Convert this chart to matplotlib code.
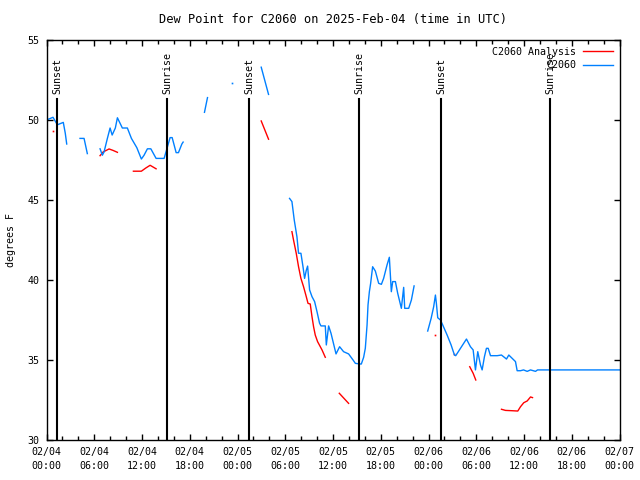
import datetime as dt
import numpy as np
import matplotlib
matplotlib.use("Agg")
import matplotlib.pyplot as plt
import matplotlib.dates as mdates

nan = np.nan

# hours after 2025-02-04 00:00 UTC, nan = gap in the record
obs_hours = [0.0, 0.82, 1.36, 2.11, 2.36, 2.54, nan,
             4.21, 4.72, 5.13, nan,
             6.73, 7.02, 7.23, 7.65, 7.99, 8.25, 8.65, 8.91, 9.53, 10.16, 10.67, 11.35,
             11.92, 12.26, 12.68, 13.11, 13.77, 14.78, 15.12, 15.53, 15.79, 16.29, 16.58,
             17.01, 17.17, nan,
             19.85, 20.23, nan,
             23.37, nan,
             26.98, 27.90, nan,
             30.54, 30.84, 31.13, 31.47, 31.67, 31.97, 32.23, 32.43, 32.64, 32.81, 33.06,
             33.36, 33.69, 33.99, 34.31, 34.49, 35.03, 35.16, 35.45, 35.75, 36.38, 36.83,
             37.33, 37.96, 38.52, 38.81, 39.43, 39.56, 39.85, 40.06, 40.28, 40.40, 40.57,
             40.73, 40.98, 41.32, 41.74, 42.08, 42.36, 42.79, 43.08, 43.33, 43.50, 43.84,
             44.13, 44.34, 44.59, 44.88, 45.01, 45.51, 45.85, 46.19, nan,
             47.90, 48.33, 48.65, 48.87, 48.99, 49.16, 49.50, 49.75, 50.34, 50.84, 51.26,
             51.42, 52.01, 52.77, 53.27, 53.61, 53.90, 54.19, 54.53, 54.74, 55.03, 55.28,
             55.50, 55.79, 56.63, 57.17, 57.80, 58.09, 58.93, 59.14, 59.56, 59.94, 60.40,
             60.82, 61.45, 61.70, 66.0, 72.0]
obs_dewpt = [50.0, 50.17, 49.7, 49.85, 49.17, 48.5, nan,
             48.85, 48.85, 47.9, nan,
             48.2, 47.8, 48.0, 48.85, 49.5, 49.06, 49.5, 50.14, 49.5, 49.5, 48.85, 48.27,
             47.56, 47.8, 48.2, 48.2, 47.6, 47.6, 48.2, 48.9, 48.9, 47.96, 47.96,
             48.5, 48.62, nan,
             50.48, 51.4, nan,
             52.3, nan,
             53.3, 51.6, nan,
             45.1, 44.9, 43.75, 42.7, 41.67, 41.67, 40.83, 40.1, 40.6, 40.87, 39.38,
             38.96, 38.65, 38.02, 37.3, 37.13, 37.13, 35.94, 37.13, 36.67, 35.38, 35.83,
             35.52, 35.38, 35.0, 34.79, 34.75, 34.75, 35.17, 35.73, 37.19, 38.44, 39.27,
             39.79, 40.83, 40.56, 39.79, 39.73, 40.1, 40.94, 41.42, 39.27, 39.9, 39.9,
             39.17, 38.75, 38.23, 39.54, 38.23, 38.23, 38.75, 39.63, nan,
             36.81, 37.6, 38.33, 39.06, 38.54, 37.64, 37.5, 37.23, 36.56, 35.94, 35.31,
             35.27, 35.73, 36.31, 35.83, 35.63, 34.38, 35.52, 34.69, 34.38, 35.21, 35.73,
             35.73, 35.27, 35.27, 35.31, 35.06, 35.31, 34.9, 34.33, 34.33, 34.38, 34.29,
             34.38, 34.29, 34.38, 34.38, 34.38]

ana_hours = [0.82, nan,
             6.73, 7.11, 7.86, 8.36, 8.91, nan,
             10.92, 11.92, 12.48, 13.02, 13.77, nan,
             26.98, 27.90, nan,
             30.84, 31.04, 31.38, 31.67, 31.97, 32.30, 32.64, 32.86, 33.14, 33.36, 33.56,
             33.77, 34.06, 34.62, 35.03, nan,
             36.79, 37.96, nan,
             48.87, nan,
             51.17, nan,
             53.18, 53.61, 53.94, nan,
             57.17, 57.67, 58.52, 59.22, 59.56, 59.97, 60.40, 60.82, 61.07]
ana_dewpt = [49.3, nan,
             47.77, 48.0, 48.19, 48.1, 47.98, nan,
             46.8, 46.8, 47.0, 47.17, 46.95, nan,
             49.94, 48.8, nan,
             43.02, 42.5, 41.67, 40.83, 40.1, 39.58, 38.96, 38.54, 38.5, 37.71, 37.08,
             36.56, 36.15, 35.63, 35.17, nan,
             32.92, 32.29, nan,
             36.56, nan,
             35.4, nan,
             34.58, 34.17, 33.75, nan,
             31.92, 31.85, 31.83, 31.81, 32.08, 32.33, 32.44, 32.69, 32.65]

sunset_hours = [1.32, 25.45, 49.57]
sunrise_hours = [15.14, 39.27, 63.27]

start = dt.datetime(2025, 2, 4)


def plot_series(ax, hours, vals, color, label):
    h = np.array(hours, dtype=float)
    v = np.array(vals, dtype=float)
    t = np.array([mdates.date2num(start + dt.timedelta(hours=x)) if not np.isnan(x) else nan
                  for x in h])
    ax.plot(t, v, color=color, lw=1.0, label=label)
    # lone points between gaps show as a dot
    good = ~np.isnan(v)
    for i in range(len(v)):
        if good[i]:
            left = i > 0 and good[i - 1]
            right = i < len(v) - 1 and good[i + 1]
            if not left and not right:
                ax.plot(t[i], v[i], 's', color=color, ms=1.2, mew=0)


plt.rcParams['font.family'] = ['DejaVu Sans Mono']
plt.rcParams['font.size'] = 7.2

fig = plt.figure(figsize=(6.4, 4.8), dpi=100)
ax = fig.add_axes([46.5 / 640, 40 / 480, 573 / 640, 400 / 480])

plot_series(ax, ana_hours, ana_dewpt, '#ff0000', 'C2060 Analysis')
plot_series(ax, obs_hours, obs_dewpt, '#0080ff', 'C2060')

for h in sunset_hours + sunrise_hours:
    x = mdates.date2num(start + dt.timedelta(hours=h))
    ax.plot([x, x], [30, 51.3], color='black', lw=1.5)
    ax.text(x, 51.65, 'Sunset' if h in sunset_hours else 'Sunrise', rotation=90,
            ha='center', va='bottom')

ax.set_xlim(mdates.date2num(start), mdates.date2num(start + dt.timedelta(hours=72)))
ax.set_ylim(30, 55)
ax.set_yticks([30, 35, 40, 45, 50, 55])
ax.xaxis.set_major_locator(mdates.HourLocator(byhour=[0, 6, 12, 18]))
ax.xaxis.set_minor_locator(mdates.HourLocator(byhour=range(0, 24, 2)))
ax.xaxis.set_major_formatter(mdates.DateFormatter('%m/%d\n%H:%M'))
ax.tick_params(which='both', direction='in', top=True, right=True, width=1)
ax.tick_params(which='major', length=4, pad=5)
ax.tick_params(which='minor', length=3)
ax.tick_params(axis='y', which='minor', length=0)
for lbl in ax.get_xticklabels():
    lbl.set_linespacing(1.5)
for s in ax.spines.values():
    s.set_linewidth(1)

ax.set_title('Dew Point for C2060 on 2025-Feb-04 (time in UTC)', pad=12)
ax.set_ylabel('degrees F', labelpad=8)

leg = ax.legend(loc='upper right', frameon=False, markerfirst=False, handlelength=3.0,
                borderaxespad=0.3, labelspacing=0.35, handletextpad=0.6)

fig.savefig('out.png', dpi=100)
